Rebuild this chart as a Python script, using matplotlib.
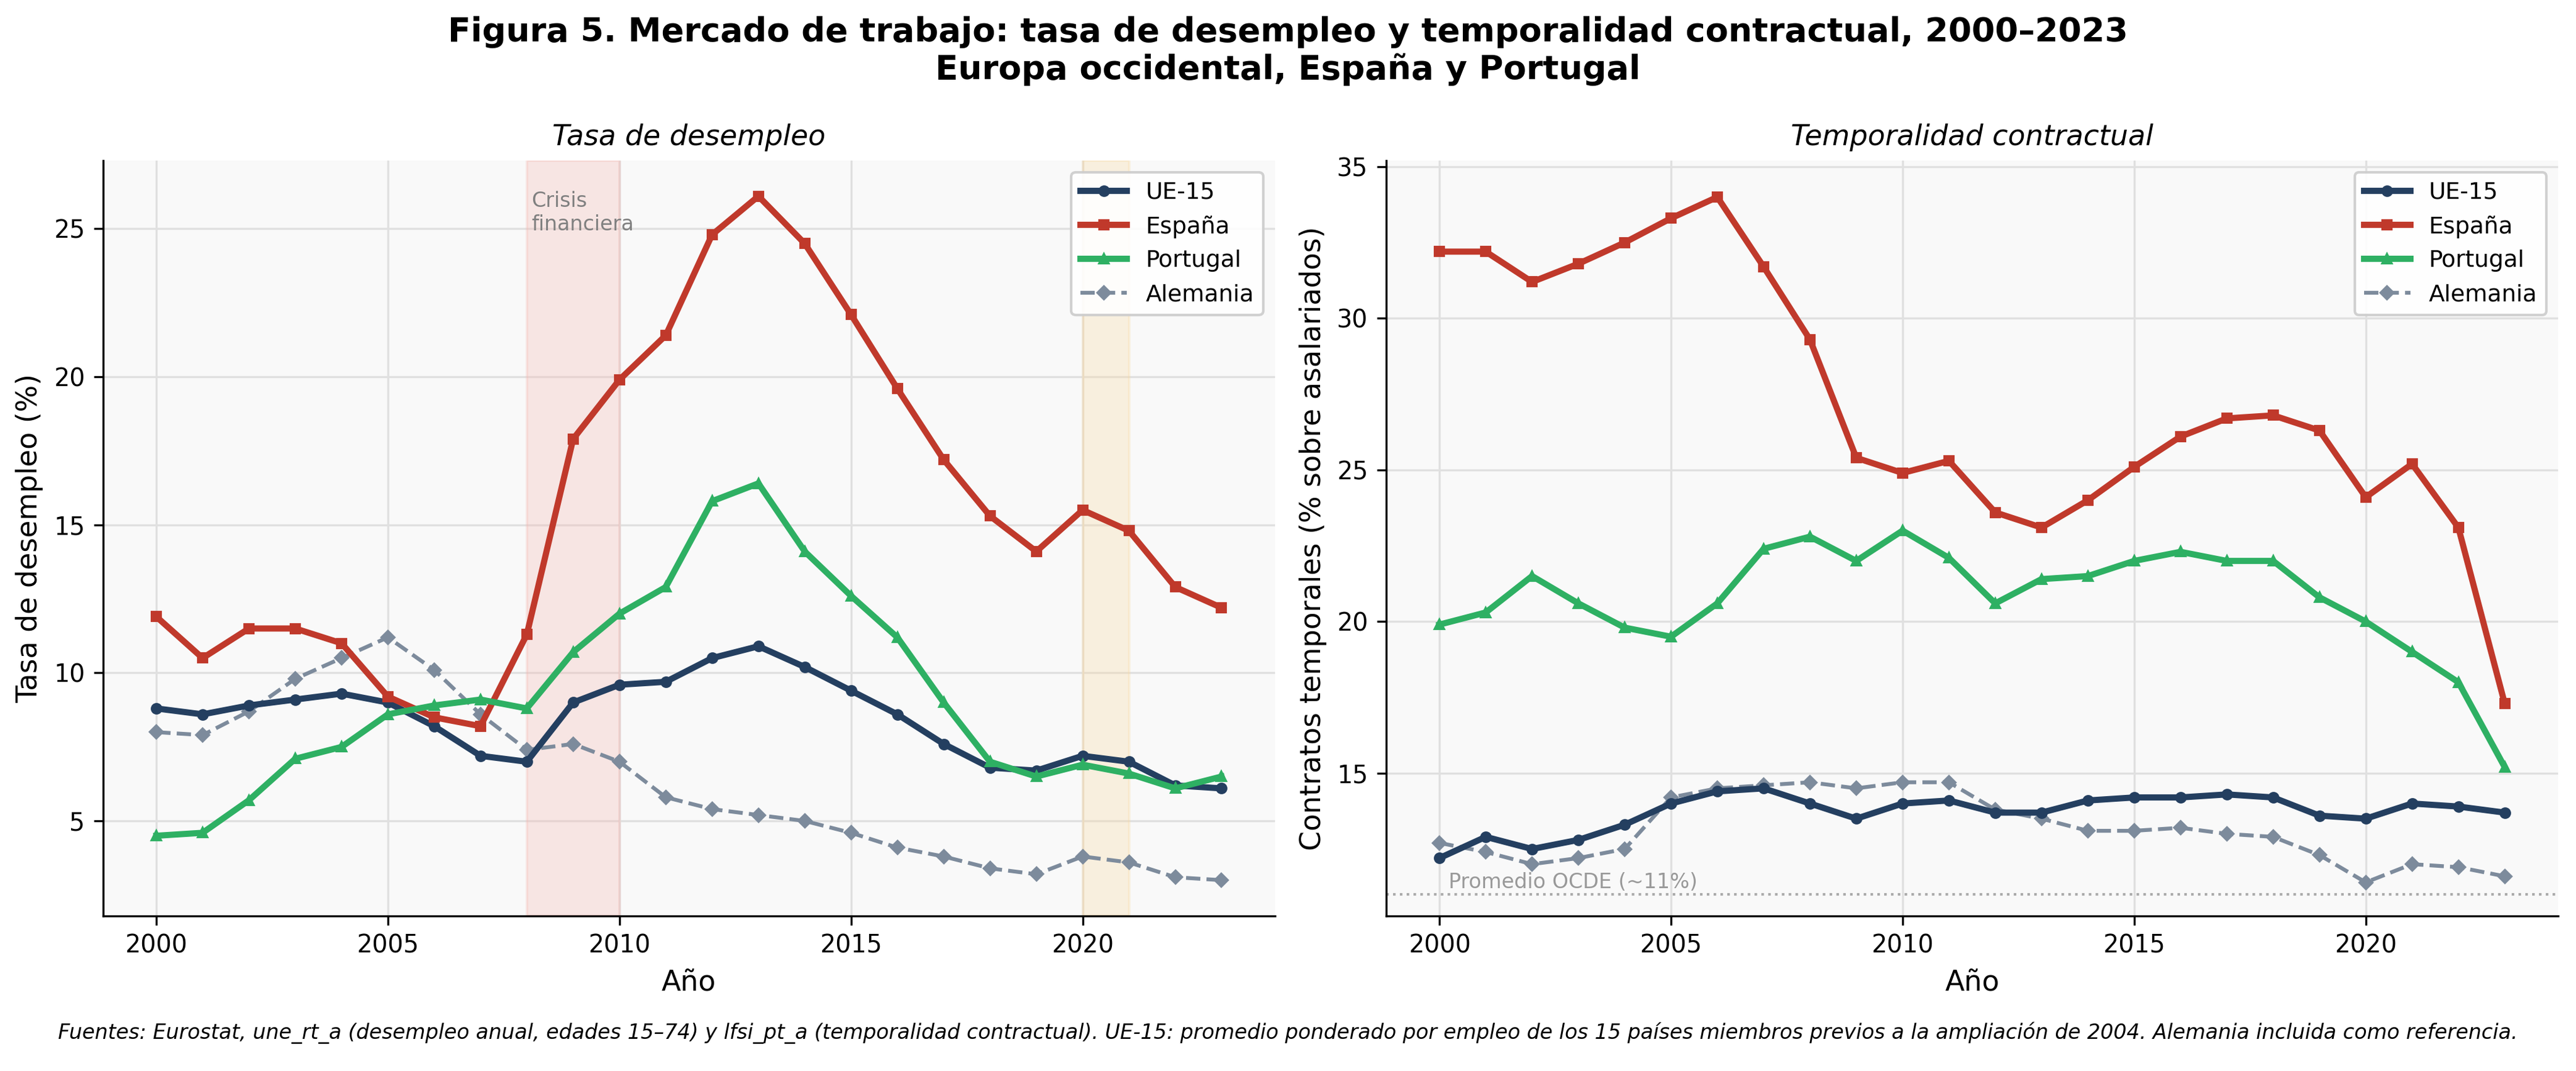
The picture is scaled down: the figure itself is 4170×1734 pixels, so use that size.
import matplotlib.pyplot as plt

# Años
years = list(range(2000, 2024))

# Tasa de desempleo (%)
paro_ue15 = [8.8, 8.6, 8.9, 9.1, 9.3, 9.0, 8.2, 7.2, 7.0, 9.0, 9.6, 9.7, 10.5, 10.9, 10.2, 9.4, 8.6, 7.6, 6.8, 6.7, 7.2, 7.0, 6.2, 6.1]
paro_esp = [11.9, 10.5, 11.5, 11.5, 11.0, 9.2, 8.5, 8.2, 11.3, 17.9, 19.9, 21.4, 24.8, 26.1, 24.5, 22.1, 19.6, 17.2, 15.3, 14.1, 15.5, 14.8, 12.9, 12.2]
paro_por = [4.5, 4.6, 5.7, 7.1, 7.5, 8.6, 8.9, 9.1, 8.8, 10.7, 12.0, 12.9, 15.8, 16.4, 14.1, 12.6, 11.2, 9.0, 7.0, 6.5, 6.9, 6.6, 6.1, 6.5]
paro_ale = [8.0, 7.9, 8.7, 9.8, 10.5, 11.2, 10.1, 8.6, 7.4, 7.6, 7.0, 5.8, 5.4, 5.2, 5.0, 4.6, 4.1, 3.8, 3.4, 3.2, 3.8, 3.6, 3.1, 3.0]

# Temporalidad contractual (% sobre asalariados)
temp_ue15 = [12.2, 12.9, 12.5, 12.8, 13.3, 14.0, 14.4, 14.5, 14.0, 13.5, 14.0, 14.1, 13.7, 13.7, 14.1, 14.2, 14.2, 14.3, 14.2, 13.6, 13.5, 14.0, 13.9, 13.7]
temp_esp = [32.2, 32.2, 31.2, 31.8, 32.5, 33.3, 34.0, 31.7, 29.3, 25.4, 24.9, 25.3, 23.6, 23.1, 24.0, 25.1, 26.1, 26.7, 26.8, 26.3, 24.1, 25.2, 23.1, 17.3]
temp_por = [19.9, 20.3, 21.5, 20.6, 19.8, 19.5, 20.6, 22.4, 22.8, 22.0, 23.0, 22.1, 20.6, 21.4, 21.5, 22.0, 22.3, 22.0, 22.0, 20.8, 20.0, 19.0, 18.0, 15.2]
temp_ale = [12.7, 12.4, 12.0, 12.2, 12.5, 14.2, 14.5, 14.6, 14.7, 14.5, 14.7, 14.7, 13.8, 13.5, 13.1, 13.1, 13.2, 13.0, 12.9, 12.3, 11.4, 12.0, 11.9, 11.6]
oecd_avg = 11.0

C_UE = '#243f60'
C_ES = '#c0392b'
C_PT = '#2eb063'
C_DE = '#7d8b9c'


def draw(ax, ue, es, pt, de):
    ax.set_facecolor('#f9f9f9')
    ax.plot(years, ue, color=C_UE, lw=2.4, marker='o', ms=3.5, label='UE-15', zorder=4)
    ax.plot(years, es, color=C_ES, lw=2.4, marker='s', ms=3.5, label='España', zorder=4)
    ax.plot(years, pt, color=C_PT, lw=2.4, marker='^', ms=3.5, label='Portugal', zorder=4)
    ax.plot(years, de, color=C_DE, lw=1.5, ls='--', marker='D', ms=3.5, label='Alemania', zorder=3)
    ax.grid(True, color='#e0e0e0', lw=0.8)
    ax.set_axisbelow(True)
    ax.spines['top'].set_visible(False)
    ax.spines['right'].set_visible(False)
    ax.set_xlim(1998.85, 2024.15)
    ax.set_xticks([2000, 2005, 2010, 2015, 2020])
    ax.tick_params(labelsize=9.5)
    ax.set_xlabel('Año', fontsize=11)
    ax.legend(loc='upper right', fontsize=9, framealpha=0.9)


fig, (ax1, ax2) = plt.subplots(1, 2, figsize=(13.9, 5.78), dpi=300)

draw(ax1, paro_ue15, paro_esp, paro_por, paro_ale)
ax1.axvspan(2008, 2010, color='#f5b7b1', alpha=0.3, zorder=1)
ax1.axvspan(2020, 2021, color='#f8d9a0', alpha=0.3, zorder=1)
ax1.text(2008.1, 24.8, 'Crisis\nfinanciera', fontsize=8, color='gray', va='bottom')
ax1.set_ylim(1.8, 27.3)
ax1.set_yticks([5, 10, 15, 20, 25])
ax1.set_ylabel('Tasa de desempleo (%)', fontsize=11)
ax1.set_title('Tasa de desempleo', fontsize=11, style='italic')

draw(ax2, temp_ue15, temp_esp, temp_por, temp_ale)
ax2.axhline(oecd_avg, color='#aaaaaa', lw=1, ls=':')
ax2.text(2000.2, oecd_avg + 0.2, 'Promedio OCDE (~11%)', fontsize=8, color='#999999')
ax2.set_ylim(10.3, 35.2)
ax2.set_yticks([15, 20, 25, 30, 35])
ax2.set_ylabel('Contratos temporales (% sobre asalariados)', fontsize=11)
ax2.set_title('Temporalidad contractual', fontsize=11, style='italic')

fig.suptitle('Figura 5. Mercado de trabajo: tasa de desempleo y temporalidad contractual, 2000–2023\n'
             'Europa occidental, España y Portugal', fontsize=13, fontweight='bold', y=0.985)
fig.text(0.5, 0.03, 'Fuentes: Eurostat, une_rt_a (desempleo anual, edades 15–74) y lfsi_pt_a (temporalidad contractual). '
         'UE-15: promedio ponderado por empleo de los 15 países miembros previos a la ampliación de 2004. '
         'Alemania incluida como referencia.', ha='center', fontsize=8, style='italic')
fig.subplots_adjust(left=0.04, right=0.993, top=0.85, bottom=0.145, wspace=0.095)
fig.savefig('out.png')
